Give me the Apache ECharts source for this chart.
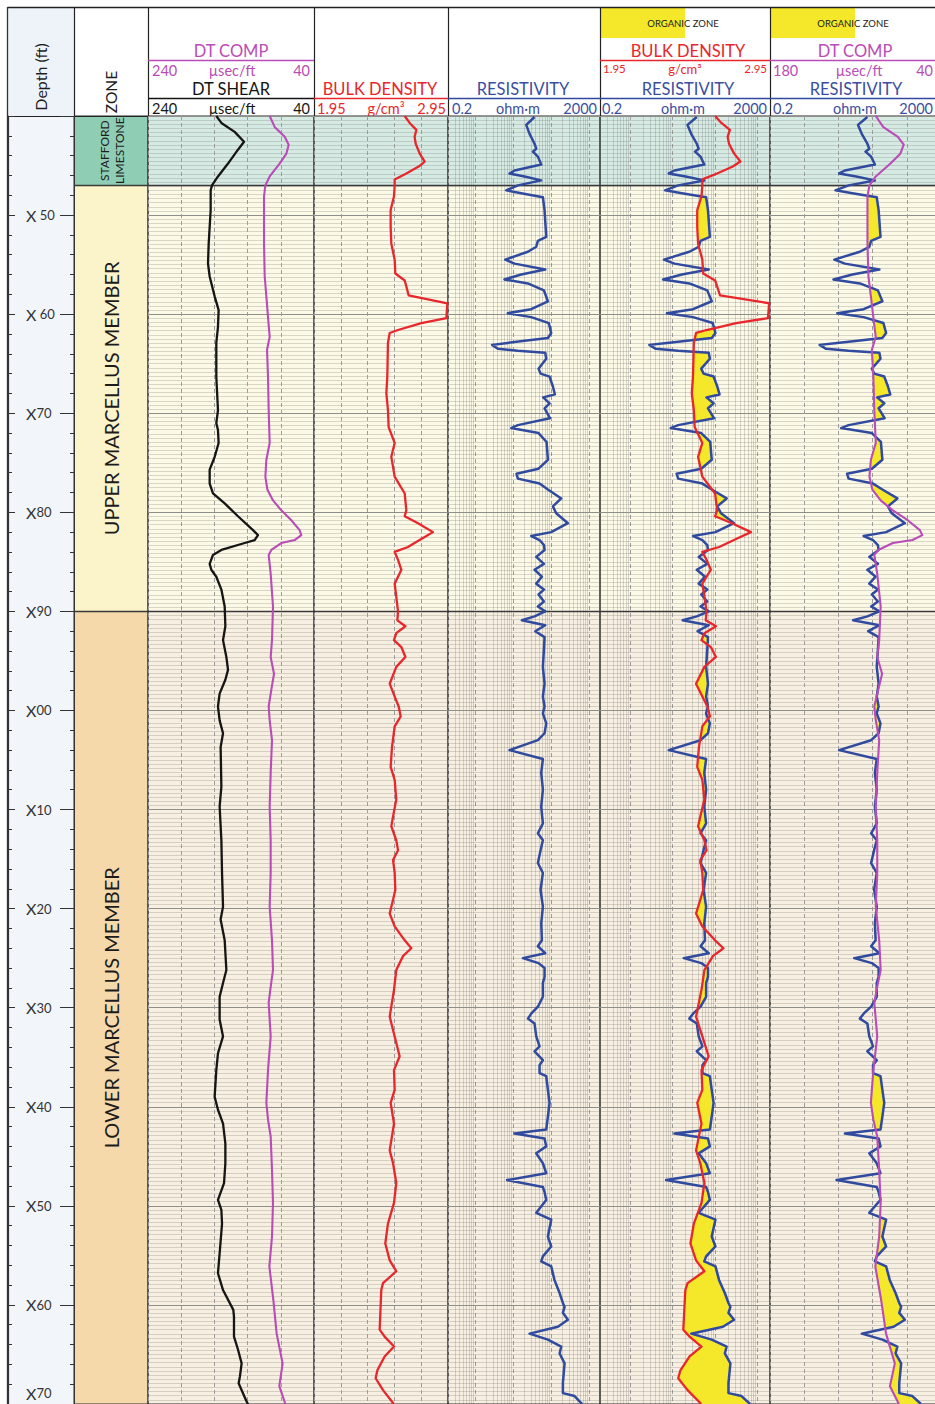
<!DOCTYPE html>
<html>
<head>
<meta charset="utf-8">
<title>Marcellus well log</title>
<script src="https://cdn.jsdelivr.net/npm/echarts/dist/echarts.min.js"></script>
<style>
html,body{margin:0;padding:0;background:#ffffff;}
#chart{width:935px;height:1404px;}
</style>
</head>
<body>
<div id="chart"></div>
<script>
// ================= DATA =================
const DEPTH_MIN = 40, DEPTH_MAX = 170;
const DEPTH_TICK_LABELS = {50:'X 50',60:'X 60',70:'X70',80:'X80',90:'X90',100:'X00',110:'X10',120:'X20',130:'X30',140:'X40',150:'X50',160:'X60',170:'X70'};

const ZONE_NAMES = ['STAFFORD\nLIMESTONE', 'UPPER MARCELLUS MEMBER', 'LOWER MARCELLUS MEMBER'];
const ZONE_TOPS  = [40, 47, 90];
const ZONE_BASES = [47, 90, 170];

// [depth, value]  DT shear, µsec/ft
const DT_SHEAR = [[40.0,157.7],[40.7,151.6],[41.6,135.6],[42.6,124.3],[43.4,131.6],[44.8,143.6],[46.1,155.7],[47.0,162.9],[47.5,164.5],[49.5,164.5],[52.9,166.9],[54.9,167.7],[56.2,165.7],[58.2,159.7],[59.6,154.9],[61.3,155.7],[62.9,157.7],[66.3,157.7],[69.7,155.7],[71.0,157.7],[71.7,155.7],[73.0,154.9],[74.4,159.7],[75.7,165.7],[77.1,165.7],[78.1,161.7],[79.1,147.6],[80.4,131.6],[81.8,113.5],[82.3,107.5],[82.8,111.5],[83.1,123.5],[83.8,151.6],[84.3,161.7],[85.2,165.7],[85.8,163.7],[86.5,157.7],[87.8,151.6],[89.5,147.6],[91.5,146.8],[92.9,149.6],[94.6,145.6],[95.9,143.6],[96.9,146.8],[98.3,153.7],[99.6,155.7],[101.0,153.7],[102.3,149.6],[103.7,152.5],[107.7,151.6],[109.7,153.7],[113.1,151.6],[116.4,150.8],[119.8,149.6],[121.1,152.5],[123.2,147.6],[126.2,145.6],[127.5,149.6],[128.9,153.7],[131.2,153.7],[132.9,149.6],[134.6,155.7],[136.3,157.7],[139.0,159.7],[140.3,155.7],[141.7,149.6],[143.7,146.8],[145.7,146.8],[147.7,148.4],[149.4,155.7],[150.4,151.6],[151.8,150.8],[154.4,153.3],[156.8,155.7],[158.5,149.6],[160.5,137.2],[161.2,136.4],[163.2,136.4],[164.5,131.6],[165.9,127.2],[167.2,129.2],[167.9,130.8],[169.7,121.5],[170.0,119.5]];

// [depth, value]  DT compressional, µsec/ft
const DT_COMP = [[40.0,93.4],[41.1,87.4],[42.1,75.3],[42.9,70.5],[43.8,73.3],[44.8,81.4],[46.1,93.4],[47.0,98.6],[48.1,100.2],[52.9,100.2],[56.2,99.4],[58.2,97.4],[60.3,95.4],[62.3,93.4],[63.6,96.6],[66.3,95.4],[69.7,94.6],[73.0,93.4],[74.7,97.4],[76.4,98.6],[77.7,96.2],[78.8,89.4],[79.8,79.4],[80.8,67.3],[81.8,57.3],[82.3,55.3],[82.8,63.3],[83.1,79.4],[83.8,91.4],[84.3,94.6],[86.2,92.2],[89.5,89.4],[92.9,90.6],[94.6,92.2],[96.3,88.2],[97.9,91.4],[99.6,94.6],[101.0,93.4],[103.0,90.6],[106.3,92.2],[109.7,93.4],[113.1,92.2],[116.4,92.2],[119.8,93.4],[123.2,90.6],[126.2,89.4],[127.9,92.2],[129.5,94.6],[132.9,92.2],[136.3,95.4],[139.6,97.4],[141.3,95.4],[143.0,92.2],[146.4,90.6],[149.7,89.4],[153.1,90.6],[156.1,93.8],[159.5,89.0],[162.9,85.0],[165.9,77.8],[168.2,81.8],[169.9,74.9],[170.0,74.5]];

// [depth, value]  bulk density, g/cm3
const BULK_DENSITY = [[40.0,2.627],[40.7,2.664],[41.4,2.714],[42.1,2.701],[42.8,2.709],[43.8,2.739],[44.6,2.776],[45.1,2.731],[45.8,2.639],[46.4,2.552],[47.0,2.552],[48.1,2.547],[49.5,2.522],[51.2,2.522],[52.9,2.527],[54.5,2.552],[55.9,2.557],[56.6,2.627],[57.2,2.639],[58.1,2.656],[58.9,2.945],[60.4,2.938],[60.9,2.751],[61.6,2.577],[61.9,2.515],[62.9,2.502],[66.3,2.497],[68.0,2.490],[69.7,2.502],[71.4,2.507],[73.0,2.552],[74.4,2.527],[76.4,2.552],[78.1,2.627],[79.8,2.639],[80.4,2.627],[81.1,2.726],[82.0,2.838],[82.6,2.763],[83.5,2.651],[84.0,2.552],[84.8,2.577],[85.8,2.602],[87.2,2.552],[88.5,2.564],[90.0,2.577],[90.9,2.572],[91.5,2.632],[92.2,2.564],[92.9,2.547],[93.6,2.602],[94.6,2.632],[95.6,2.564],[97.3,2.515],[98.6,2.552],[99.6,2.582],[100.6,2.597],[101.6,2.552],[103.7,2.532],[105.7,2.522],[107.0,2.552],[109.0,2.564],[110.7,2.540],[111.7,2.527],[113.1,2.564],[114.1,2.577],[115.1,2.540],[116.4,2.552],[118.1,2.557],[119.1,2.540],[120.5,2.515],[121.8,2.552],[123.2,2.627],[124.0,2.676],[124.8,2.614],[126.2,2.564],[128.2,2.547],[130.9,2.515],[132.9,2.552],[134.9,2.589],[136.3,2.547],[138.3,2.552],[139.6,2.522],[141.7,2.547],[144.4,2.515],[145.7,2.540],[147.7,2.564],[149.7,2.547],[151.8,2.502],[153.8,2.482],[155.5,2.515],[156.6,2.564],[157.8,2.465],[158.5,2.452],[162.5,2.440],[163.2,2.477],[164.2,2.547],[165.2,2.477],[166.6,2.423],[167.4,2.410],[168.6,2.465],[169.9,2.540],[170.0,2.545]];

// [depth, value]  resistivity, ohm·m
const RESISTIVITY = [[40.1,37.9],[40.9,22.9],[41.8,28.0],[42.8,37.9],[43.3,42.0],[43.6,34.3],[44.1,46.4],[44.9,56.8],[45.5,11.3],[45.8,8.3],[46.1,20.7],[46.5,56.8],[47.0,13.8],[47.5,6.8],[47.8,16.9],[48.2,62.8],[49.5,69.5],[52.2,76.9],[52.6,46.4],[53.2,42.0],[53.7,25.3],[54.5,6.4],[54.9,11.3],[55.5,72.4],[56.0,16.9],[56.5,6.1],[56.9,25.3],[57.6,66.8],[58.7,85.1],[59.5,31.0],[59.9,7.5],[60.3,31.0],[60.9,90],[61.9,104],[62.4,85.1],[62.9,7.5],[63.1,2.9],[63.5,4.1],[63.7,13.8],[63.9,72.4],[64.5,76.9],[65.5,48.3],[66.0,54.6],[66.3,94.1],[67.3,115],[68.1,130],[68.4,64],[69.0,94.1],[69.5,69.5],[70.5,96.0],[71.2,13.8],[71.5,9.2],[72.0,48.3],[72.9,78.5],[74.7,85.1],[75.6,48.3],[76.1,12.7],[76.6,13.8],[77.1,51.4],[77.7,85.1],[78.6,191],[79.4,115],[80.1,141],[81.1,286],[81.6,163],[82.0,104],[82.4,31.0],[82.8,51.4],[83.3,66.8],[83.8,69.5],[84.5,42.0],[85.2,66.8],[85.8,37.9],[86.5,59.1],[87.2,42.0],[87.8,66.8],[88.3,48.3],[89.0,66.8],[89.5,46.4],[90.0,72.4],[90.5,37.9],[90.9,17.6],[91.4,72.4],[92.0,39.5],[92.6,69.5],[93.9,66.8],[95.6,62.8],[97.3,69.5],[98.6,62.8],[99.6,69.5],[100.3,62.8],[101.3,76.9],[102.3,69.5],[103.0,46.4],[104.0,8.3],[104.9,62.8],[106.3,56.8],[108.0,62.8],[109.7,56.8],[111.4,62.8],[112.4,46.4],[113.1,62.8],[114.1,54.6],[115.4,46.4],[116.4,62.8],[118.1,54.6],[119.8,62.8],[121.5,56.8],[123.2,59.1],[123.8,46.4],[124.5,72.4],[125.0,18.7],[125.5,48.3],[126.0,69.5],[126.9,69.5],[127.5,62.8],[128.9,62.8],[129.9,46.4],[130.6,31.0],[131.1,25.3],[131.6,37.9],[132.9,42.0],[133.9,51.4],[134.4,37.9],[135.3,62.8],[135.8,51.4],[136.6,51.4],[136.9,76.9],[138.3,85.1],[139.6,94.1],[141.0,85.1],[142.3,76.9],[142.7,11.3],[143.2,69.5],[144.0,76.9],[144.7,42.0],[145.7,62.8],[146.7,76.9],[147.4,7.2],[148.1,62.8],[148.6,69.5],[149.4,76.9],[150.7,42.0],[151.4,104],[153.1,85.1],[154.1,104],[155.1,62.8],[155.6,56.8],[156.1,104],[157.5,127],[158.8,173],[159.8,211],[160.2,234],[160.8,211],[161.5,286],[162.2,156],[162.9,28.0],[163.5,85.1],[164.2,191],[164.9,173],[165.9,234],[167.9,211],[168.9,211],[169.2,428],[169.9,641],[170.0,680]];

// gridline values on the resistivity (log) scale
const LOG_GRID_MINOR = [0.3,0.4,0.5,0.6,0.7,0.8,0.9,2,3,4,5,6,7,8,9,20,30,40,50,60,70,80,90,200,300,400,500,600,700,800,900];
const LOG_GRID_MAJOR = [1,10,100,1000];

// ================= STYLE =================
const C_MAG = '#b94cb6', C_RED = '#e8262b', C_BLUE = '#2f4a9f', C_BLK = '#151515';
const C_BLUE_TXT = '#3b4fa0';
const C_YELLOW = '#f5e82a';
const ZONE_TRACK_COLORS = ['#8fceb5', '#fbf3c9', '#f5d9ab'];
const ZONE_DATA_COLORS  = ['#d6eae4', '#fcf9e7', '#f7efe1'];
const FONT = 'Lato, "Open Sans", sans-serif';
const TOP = 116, HEIGHT = 1288;

const chart = echarts.init(document.getElementById('chart'), null, {renderer: 'svg', width: 935, height: 1404});

// ---------- grids ----------
const trackBox = [
  {left: 8,   width: 66},   // 0 depth
  {left: 74,  width: 74},   // 1 zone
  {left: 148, width: 166},  // 2 DT
  {left: 314, width: 134},  // 3 bulk density
  {left: 448, width: 152},  // 4 resistivity
  {left: 600, width: 170},  // 5 BD + res
  {left: 770, width: 171}   // 6 DT comp + res
];
const grids = trackBox.map((b, i) => ({
  left: b.left, top: TOP, width: b.width, height: HEIGHT,
  show: true, outerBoundsMode: 'none',
  backgroundColor: i === 0 ? '#f2f6fb' : 'transparent',
  borderColor: '#2a2a2a', borderWidth: i === 0 ? 0 : 1
}));

// ---------- axes ----------
const hiddenX = (gi, o) => Object.assign({type: 'value', gridIndex: gi, show: false}, o);
const helperX = gi => ({type: 'value', gridIndex: gi, min: 0, max: 5, interval: 1,
  axisLine: {show: false}, axisTick: {show: false}, axisLabel: {show: false},
  splitLine: {show: true, lineStyle: {color: '#9c9c9c', width: 1, type: [4, 3]}}});
const xAxes = [
  hiddenX(0, {min: 0, max: 1}),                                         // 0
  hiddenX(1, {min: 0, max: 1}),                                         // 1
  hiddenX(2, {min: 40, max: 240, inverse: true}),                       // 2 DT
  helperX(2),                                                           // 3
  hiddenX(3, {min: 1.95, max: 2.95}),                                   // 4 BD
  helperX(3),                                                           // 5
  hiddenX(4, {type: 'log', logBase: 10, min: 0.2, max: 2000}),          // 6 RES
  hiddenX(5, {type: 'log', logBase: 10, min: 0.2, max: 2000}),          // 7 RES
  hiddenX(5, {min: 1.95, max: 2.95}),                                   // 8 BD
  hiddenX(6, {type: 'log', logBase: 10, min: 0.2, max: 2000}),          // 9 RES
  hiddenX(6, {min: 40, max: 180, inverse: true}),                       // 10 DT comp
  helperX(6)                                                            // 11
];

function depthLabel(v) {
  const s = DEPTH_TICK_LABELS[v];
  if (!s) return '';
  const main = '{x|X}{n|' + s.slice(1) + '}';
  return v === DEPTH_MAX ? main + '\n{sp| }' : main;
}
const baseY = gi => ({type: 'value', gridIndex: gi, min: DEPTH_MIN, max: DEPTH_MAX, interval: 10, inverse: true});
const trackY = gi => Object.assign(baseY(gi), {
  axisLine: {show: false}, axisTick: {show: false}, axisLabel: {show: false},
  splitLine: {show: true, lineStyle: {color: '#8f8f8a', width: 1}},
  minorTick: {show: false, splitNumber: 24},
  minorSplitLine: {show: true, lineStyle: {color: 'rgba(105,105,95,0.24)', width: 1}}
});
const yAxes = [
  Object.assign(baseY(0), {position: 'left',
    axisLine: {show: true, lineStyle: {color: '#333', width: 1.2}},
    axisTick: {show: true, inside: true, length: 7, lineStyle: {color: '#333', width: 1}},
    minorTick: {show: true, splitNumber: 5, length: 4, lineStyle: {color: '#333', width: 1}},
    splitLine: {show: false},
    axisLabel: {show: true, inside: true, margin: 18, color: '#333', formatter: depthLabel,
      rich: {x: {fontSize: 16, fontFamily: FONT, color: '#333'},
             n: {fontSize: 13, fontFamily: FONT, color: '#333'},
             sp: {fontSize: 8, lineHeight: 22}}}}),
  Object.assign(baseY(0), {position: 'right',
    axisLine: {show: true, lineStyle: {color: '#333', width: 1}},
    axisTick: {show: true, inside: true, length: 14, lineStyle: {color: '#333', width: 1}},
    minorTick: {show: true, splitNumber: 5, length: 4, lineStyle: {color: '#333', width: 1}},
    splitLine: {show: false}, axisLabel: {show: false}}),
  Object.assign(baseY(1), {show: false}),
  trackY(2), trackY(3), trackY(4), trackY(5), trackY(6)
];

// ---------- helpers ----------
const px = (axis, idx, v) => chart.convertToPixel(axis === 'x' ? {xAxisIndex: idx} : {yAxisIndex: idx}, v);

function fillPolys(right, left, xR, xL, yP) {
  const A = right.map(p => [yP(p[0]), xR(p[1])]);
  const B = left.map(p => [yP(p[0]), xL(p[1])]);
  const lo = Math.max(A[0][0], B[0][0]), hi = Math.min(A[A.length - 1][0], B[B.length - 1][0]);
  const ys = Array.from(new Set(A.map(p => p[0]).concat(B.map(p => p[0]), [lo, hi])))
    .filter(y => y >= lo && y <= hi).sort((a, b) => a - b);
  const at = (Cv, y) => {
    for (let i = 0; i < Cv.length - 1; i++) {
      if (y >= Cv[i][0] && y <= Cv[i + 1][0]) {
        const dy = Cv[i + 1][0] - Cv[i][0];
        const t = dy ? (y - Cv[i][0]) / dy : 0;
        return Cv[i][1] + t * (Cv[i + 1][1] - Cv[i][1]);
      }
    }
    return Cv[Cv.length - 1][1];
  };
  const S = ys.map(y => ({y, a: at(A, y), b: at(B, y)}));
  const pts = [];
  for (let i = 0; i < S.length; i++) {
    pts.push(S[i]);
    if (i < S.length - 1) {
      const d0 = S[i].a - S[i].b, d1 = S[i + 1].a - S[i + 1].b;
      if (d0 * d1 < 0) {
        const t = d0 / (d0 - d1);
        const y = S[i].y + t * (S[i + 1].y - S[i].y);
        const x = S[i].a + t * (S[i + 1].a - S[i].a);
        pts.push({y, a: x, b: x});
      }
    }
  }
  const polys = []; let run = [];
  for (const p of pts) {
    if (p.a - p.b >= -1e-9) run.push(p);
    else { if (run.length > 1) polys.push(run); run = []; }
  }
  if (run.length > 1) polys.push(run);
  return polys.map(r => r.map(p => [p.a, p.y]).concat(r.slice().reverse().map(p => [p.b, p.y])));
}

// ---------- series ----------
const series = [];
const trackAxes = [ // [gridIdx, xAxisIndexForBg, yAxisIndex]
  [1, 1, 2], [2, 3, 3], [3, 5, 4], [4, 6, 5], [5, 7, 6], [6, 11, 7]
];
trackAxes.forEach(([gi, xi, yi]) => {
  const isZone = gi === 1;
  series.push({
    type: 'custom', xAxisIndex: xi, yAxisIndex: yi, z: -5, silent: true, animation: false,
    data: ZONE_TOPS.map((t, i) => [1, t, ZONE_BASES[i]]),
    encode: {x: 0, y: [1, 2]},
    renderItem(params, api) {
      const cs = params.coordSys;
      const i = params.dataIndex;
      const y1 = api.coord([1, ZONE_TOPS[i]])[1], y2 = api.coord([1, ZONE_BASES[i]])[1];
      const children = [{type: 'rect', shape: {x: cs.x, y: y1, width: cs.width, height: y2 - y1},
        style: {fill: (isZone ? ZONE_TRACK_COLORS : ZONE_DATA_COLORS)[i]}}];
      if (isZone) {
        const small = i === 0;
        children.push({type: 'text', x: cs.x + cs.width / 2 + (small ? 1 : 0), y: (y1 + y2) / 2, rotation: Math.PI / 2,
          style: {text: ZONE_NAMES[i], fill: '#1c1c1c', font: (small ? '12px ' : '20px ') + FONT,
            align: 'center', verticalAlign: 'middle', textAlign: 'center', textVerticalAlign: 'middle',
            lineHeight: small ? 15 : 24}});
      }
      return {type: 'group', children};
    }
  });
});

// log grid lines for resistivity tracks
[[6, 5], [7, 6]].forEach(([xi, yi]) => {
  series.push({
    type: 'custom', xAxisIndex: xi, yAxisIndex: yi, z: -4, silent: true, animation: false,
    data: [[1, 100]], encode: {x: 0, y: 1},
    renderItem(params, api) {
      const cs = params.coordSys;
      const ch = [];
      LOG_GRID_MINOR.forEach(v => {
        const x = Math.round(api.coord([v, 100])[0]) + 0.5;
        ch.push({type: 'line', shape: {x1: x, y1: cs.y, x2: x, y2: cs.y + cs.height},
          style: {stroke: 'rgba(110,110,110,0.26)', lineWidth: 1}});
      });
      LOG_GRID_MAJOR.forEach(v => {
        const x = Math.round(api.coord([v, 100])[0]) + 0.5;
        ch.push({type: 'line', shape: {x1: x, y1: cs.y, x2: x, y2: cs.y + cs.height},
          style: {stroke: '#9c9c9c', lineWidth: 1, lineDash: [4, 3]}});
      });
      return {type: 'group', children: ch};
    }
  });
});

// overlays: organic-zone fill + zone boundaries
const fillDefs = {
  5: {right: RESISTIVITY, left: BULK_DENSITY, xr: 7, xl: 8, y: 6},
  6: {right: RESISTIVITY, left: DT_COMP, xr: 9, xl: 10, y: 7}
};
trackAxes.forEach(([gi, xi, yi]) => {
  series.push({
    type: 'custom', xAxisIndex: xi, yAxisIndex: yi, z: 1, silent: true, animation: false,
    data: [[1, 100]], encode: {x: 0, y: 1},
    renderItem(params, api) {
      const cs = params.coordSys;
      const ch = [];
      const f = fillDefs[gi];
      if (f) {
        const polys = fillPolys(f.right, f.left,
          v => px('x', f.xr, v), v => px('x', f.xl, v), d => px('y', f.y, d));
        polys.forEach(pts => ch.push({type: 'polygon', shape: {points: pts},
          style: {fill: C_YELLOW, stroke: C_YELLOW, lineWidth: 0.5}}));
      }
      ZONE_TOPS.slice(1).forEach(t => {
        const y = Math.round(api.coord([1, t])[1]) + 0.5;
        ch.push({type: 'line', shape: {x1: cs.x, y1: y, x2: cs.x + cs.width, y2: y},
          style: {stroke: '#3a3a3a', lineWidth: 1.3}});
      });
      return {type: 'group', children: ch};
    }
  });
});

// curves
function curve(name, data, xi, yi, color, width) {
  series.push({name, type: 'line', xAxisIndex: xi, yAxisIndex: yi, z: 3,
    data: data.map(p => [p[1], p[0]]), showSymbol: false, symbol: 'none', silent: true, animation: false,
    lineStyle: {color, width, join: 'round'}, clip: true});
}
curve('DT SHEAR', DT_SHEAR, 2, 3, C_BLK, 2.3);
curve('DT COMP', DT_COMP, 2, 3, C_MAG, 2.1);
curve('BULK DENSITY', BULK_DENSITY, 4, 4, C_RED, 2.3);
curve('RESISTIVITY', RESISTIVITY, 6, 5, C_BLUE, 2.5);
curve('RESISTIVITY', RESISTIVITY, 7, 6, C_BLUE, 2.5);
curve('BULK DENSITY', BULK_DENSITY, 8, 6, C_RED, 2.3);
curve('RESISTIVITY', RESISTIVITY, 9, 7, C_BLUE, 2.5);
curve('DT COMP', DT_COMP, 10, 7, C_MAG, 2.1);

// ---------- header ----------
const G = [];
const hl = (x1, x2, y, c, w) => G.push({type: 'line', silent: true, shape: {x1, y1: y, x2, y2: y}, style: {stroke: c, lineWidth: w}});
const vl = (x, y1, y2, c, w) => G.push({type: 'line', silent: true, shape: {x1: x, y1, x2: x, y2}, style: {stroke: c, lineWidth: w}});
const tx = (x, y, text, c, size, align, rot) => G.push({type: 'text', silent: true, x, y, rotation: rot || 0,
  style: {text, fill: c, font: size + 'px ' + FONT, align, verticalAlign: 'middle', textAlign: align, textVerticalAlign: 'middle'}});

G.push({type: 'rect', silent: true, shape: {x: 8, y: 7, width: 66, height: 109}, style: {fill: '#eef3f9'}});
G.push({type: 'rect', silent: true, shape: {x: 600, y: 7, width: 85, height: 31}, style: {fill: C_YELLOW}});
G.push({type: 'rect', silent: true, shape: {x: 770, y: 7, width: 85, height: 31}, style: {fill: C_YELLOW}});
hl(7.5, 935, 7.5, '#222', 1.3);
hl(7.5, 148, 116.5, '#222', 1.2);
vl(7.5, 7, 1404, '#333', 1.3);
[74, 148, 314, 448, 600, 770].forEach(x => vl(x + 0.5, 7, 116, '#222', 1.2));

const NAME = 16.5, UNIT = 14.5;
tx(40, 77, 'Depth (ft)', '#1e1e1e', 16, 'center', Math.PI / 2);
tx(111, 92, 'ZONE', '#1e1e1e', 15.5, 'center', Math.PI / 2);

// track 1
tx(231, 50.5, 'DT COMP', C_MAG, NAME, 'center');
hl(148, 314, 60.5, C_MAG, 1.6);
tx(152, 70, '240', C_MAG, UNIT, 'left'); tx(232, 70, 'µsec/ft', C_MAG, UNIT, 'center'); tx(310, 70, '40', C_MAG, UNIT, 'right');
tx(231, 89.3, 'DT SHEAR', C_BLK, NAME, 'center');
hl(148, 314, 98.5, C_BLK, 1.6);
tx(152, 108, '240', C_BLK, UNIT, 'left'); tx(232, 108, 'µsec/ft', C_BLK, UNIT, 'center'); tx(310, 108, '40', C_BLK, UNIT, 'right');
// track 2
tx(380, 89.3, 'BULK DENSITY', C_RED, NAME, 'center');
hl(314, 448, 98.5, C_RED, 1.6);
tx(317, 108, '1.95', C_RED, UNIT, 'left'); tx(386, 108, 'g/cm³', C_RED, UNIT, 'center'); tx(446, 108, '2.95', C_RED, UNIT, 'right');
// track 3
tx(523, 89.3, 'RESISTIVITY', C_BLUE_TXT, NAME, 'center');
hl(448, 600, 98.5, C_BLUE, 1.6);
tx(452, 108, '0.2', C_BLUE_TXT, UNIT, 'left'); tx(518, 108, 'ohm·m', C_BLUE_TXT, UNIT, 'center'); tx(597, 108, '2000', C_BLUE_TXT, UNIT, 'right');
// track 4
tx(683, 23, 'ORGANIC ZONE', '#1a1a1a', 9.5, 'center');
tx(688, 50.5, 'BULK DENSITY', C_RED, NAME, 'center');
hl(600, 770, 60.5, C_RED, 1.6);
tx(603, 68.5, '1.95', C_RED, 11.5, 'left'); tx(685, 68.5, 'g/cm³', C_RED, 13, 'center'); tx(767, 68.5, '2.95', C_RED, 11.5, 'right');
tx(688, 89.3, 'RESISTIVITY', C_BLUE_TXT, NAME, 'center');
hl(600, 770, 98.5, C_BLUE, 1.6);
tx(602, 108, '0.2', C_BLUE_TXT, UNIT, 'left'); tx(683, 108, 'ohm·m', C_BLUE_TXT, UNIT, 'center'); tx(767, 108, '2000', C_BLUE_TXT, UNIT, 'right');
// track 5
tx(853, 23, 'ORGANIC ZONE', '#1a1a1a', 9.5, 'center');
tx(855, 50.5, 'DT COMP', C_MAG, NAME, 'center');
hl(770, 935, 60.5, C_MAG, 1.6);
tx(773, 70, '180', C_MAG, UNIT, 'left'); tx(859, 70, 'µsec/ft', C_MAG, UNIT, 'center'); tx(933, 70, '40', C_MAG, UNIT, 'right');
tx(856, 89.3, 'RESISTIVITY', C_BLUE_TXT, NAME, 'center');
hl(770, 935, 98.5, C_BLUE, 1.6);
tx(773, 108, '0.2', C_BLUE_TXT, UNIT, 'left'); tx(855, 108, 'ohm·m', C_BLUE_TXT, UNIT, 'center'); tx(933, 108, '2000', C_BLUE_TXT, UNIT, 'right');

chart.setOption({
  animation: false,
  backgroundColor: '#ffffff',
  textStyle: {fontFamily: FONT},
  grid: grids,
  xAxis: xAxes,
  yAxis: yAxes,
  series,
  graphic: {elements: G}
});
</script>
</body>
</html>
